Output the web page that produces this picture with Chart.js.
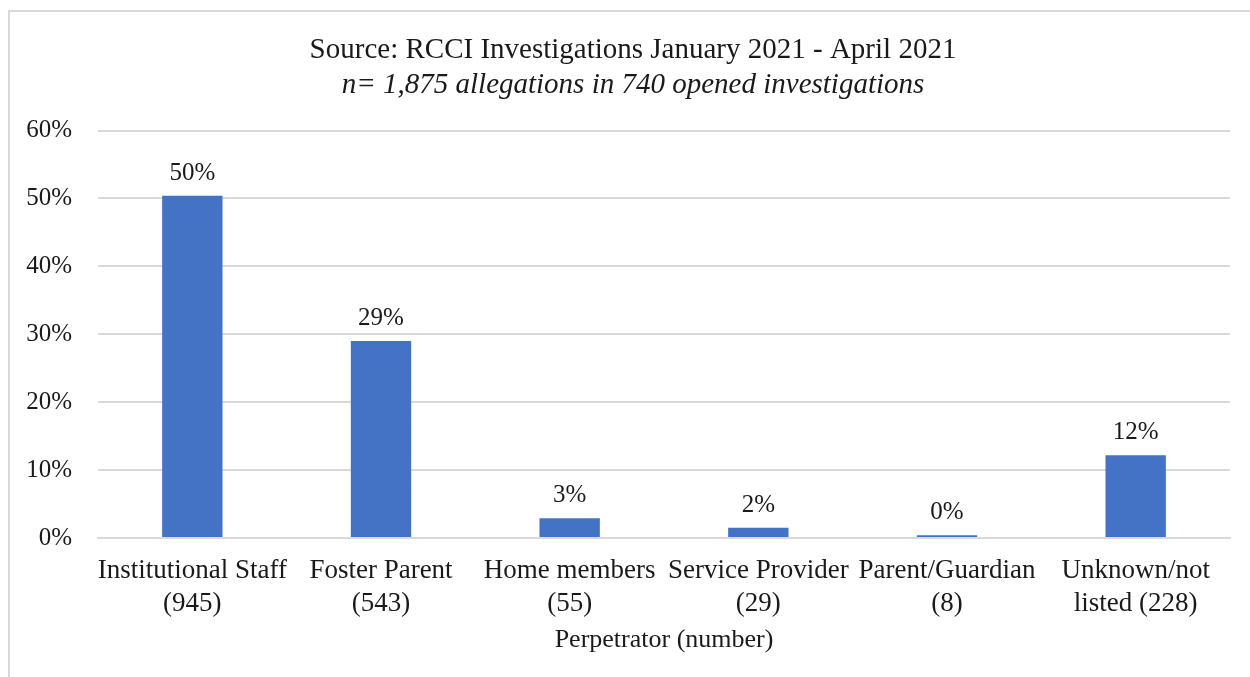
<!DOCTYPE html>
<html>
<head>
<meta charset="utf-8">
<script src="https://cdn.jsdelivr.net/npm/chart.js@4.4.0/dist/chart.umd.min.js"></script>
<style>
body{margin:0;background:#fff;overflow:hidden;}
#wrap{position:relative;width:1250px;height:677px;overflow:hidden;}
#frame{position:absolute;left:8px;top:10px;width:1300px;height:700px;border:2px solid #d9d9d9;box-sizing:border-box;}
#myChart{position:absolute;left:0;top:0;}
</style>
</head>
<body>
<div id="wrap">
<div id="frame"></div>
<canvas id="myChart" width="1270" height="677"></canvas>
</div>
<script>
// perpetrator categories (two lines each, as on the x axis)
var categorias = [
    ["Institutional Staff", "(945)"],
    ["Foster Parent", "(543)"],
    ["Home members", "(55)"],
    ["Service Provider", "(29)"],
    ["Parent/Guardian", "(8)"],
    ["Unknown/not", "listed (228)"]
];
// share of allegations, percent
var porcentaje = [50.4, 29.0, 2.9, 1.5, 0.4, 12.2];
var yTicks = [0, 10, 20, 30, 40, 50, 60];

var serif = "'Liberation Serif', 'Times New Roman', serif";
var txt = '#1a1a1a';

// draws the "50%" labels over each bar
var etiquetas = {
    id: 'etiquetas',
    afterDatasetsDraw: function(chart) {
        var ctx = chart.ctx;
        var meta = chart.getDatasetMeta(0);
        ctx.save();
        ctx.font = '25px ' + serif;
        ctx.fillStyle = txt;
        ctx.textAlign = 'center';
        ctx.textBaseline = 'bottom';
        meta.data.forEach(function(bar, i) {
            ctx.fillText(Math.round(porcentaje[i]) + '%', bar.x, bar.y - 10);
        });
        ctx.restore();
    }
};

var ctx = document.getElementById('myChart');
var barGraph = new Chart(ctx, {
    type: 'bar',
    data: {
        labels: categorias,
        datasets: [{
            data: porcentaje,
            backgroundColor: '#4472C4',
            borderWidth: 0,
            barPercentage: 0.64,
            categoryPercentage: 0.5
        }]
    },
    options: {
        responsive: false,
        animation: false,
        layout: { padding: { left: 0, right: 4, top: 0, bottom: 21 } },
        plugins: {
            legend: { display: false },
            tooltip: { enabled: false },
            title: {
                display: true,
                text: 'Source: RCCI Investigations January 2021 - April 2021',
                color: txt,
                font: { family: serif, size: 29, weight: 'normal', lineHeight: 1.2 },
                padding: { top: 33, bottom: 0 }
            },
            subtitle: {
                display: true,
                text: 'n= 1,875 allegations in 740 opened investigations',
                color: txt,
                font: { family: serif, size: 29, style: 'italic', lineHeight: 1.2 },
                padding: { top: 0, bottom: 28 }
            }
        },
        scales: {
            x: {
                afterFit: function(scale) { scale.height = 118; },
                grid: { display: false, drawTicks: false },
                border: { display: true, color: '#d9d9d9', width: 2 },
                ticks: {
                    color: txt,
                    font: { family: serif, size: 27, lineHeight: 1.23 },
                    padding: 16,
                    maxRotation: 0,
                    autoSkip: false
                },
                title: {
                    display: true,
                    text: 'Perpetrator (number)',
                    color: txt,
                    font: { family: serif, size: 26, lineHeight: 1.2 },
                    padding: { top: 0, bottom: 0 }
                }
            },
            y: {
                min: 0,
                max: 60,
                afterFit: function(scale) { scale.width = 98; },
                afterBuildTicks: function(scale) {
                    scale.ticks = yTicks.map(function(v) { return { value: v }; });
                },
                grid: { color: '#d9d9d9', lineWidth: 2, drawTicks: false },
                border: { display: false },
                ticks: {
                    color: txt,
                    font: { family: serif, size: 25 },
                    padding: 26,
                    callback: function(v) { return v + '%'; }
                }
            },
            // empty right margin so the title centres on the frame
            y2: {
                display: true,
                position: 'right',
                min: 0,
                max: 60,
                afterFit: function(scale) { scale.width = 36; },
                grid: { display: false, drawTicks: false },
                border: { display: false },
                ticks: { display: false }
            }
        }
    },
    plugins: [etiquetas]
});
</script>
</body>
</html>
